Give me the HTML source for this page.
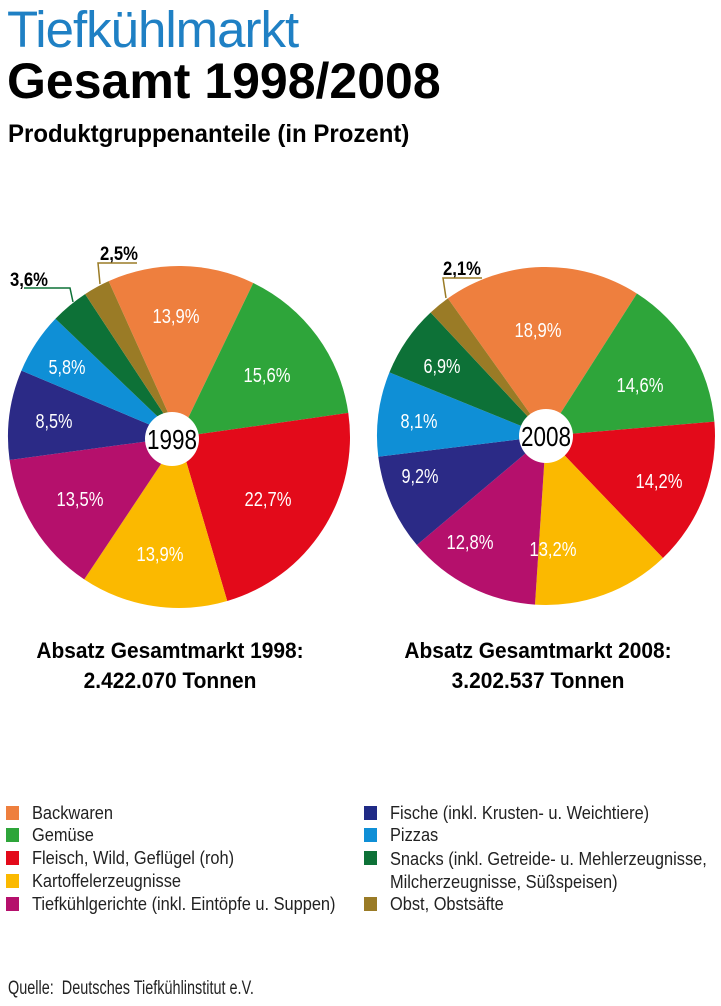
<!DOCTYPE html>
<html><head><meta charset="utf-8"><style>
body{margin:0;width:721px;height:1006px;background:#fff;overflow:hidden;font-family:"Liberation Sans",sans-serif;position:relative}
.a{position:absolute;white-space:nowrap}
.sq{position:absolute;width:13px;height:14px}
.lg{position:absolute;font-size:18px;color:#222;white-space:nowrap;transform:scaleX(.91);transform-origin:0 0}
</style></head><body>
<div class="a" style="left:7px;top:0px;font-size:51px;color:#1f80c4;letter-spacing:-1px">Tiefkühlmarkt</div>
<div class="a" style="left:7px;top:52px;font-size:50px;font-weight:bold">Gesamt 1998/2008</div>
<div class="a" style="left:8px;top:120px;font-size:25px;font-weight:bold;transform:scaleX(.96);transform-origin:0 0">Produktgruppenanteile (in Prozent)</div>
<svg id="s" width="721" height="720" style="position:absolute;left:0;top:0"></svg>
<div class="a" style="left:0;width:340px;text-align:center;top:636px;font-size:22px;font-weight:bold;line-height:30px;transform:scaleX(.95)">Absatz Gesamtmarkt 1998:<br>2.422.070 Tonnen</div>
<div class="a" style="left:368px;width:340px;text-align:center;top:636px;font-size:22px;font-weight:bold;line-height:30px;transform:scaleX(.95)">Absatz Gesamtmarkt 2008:<br>3.202.537 Tonnen</div>
<div class="sq" style="left:6px;top:806px;background:#ee7f3e"></div><div class="lg" style="left:32px;top:803px">Backwaren</div>
<div class="sq" style="left:6px;top:828px;background:#2ea53a"></div><div class="lg" style="left:32px;top:825px">Gemüse</div>
<div class="sq" style="left:6px;top:851px;background:#e30a1a"></div><div class="lg" style="left:32px;top:848px">Fleisch, Wild, Geflügel (roh)</div>
<div class="sq" style="left:6px;top:874px;background:#fbb900"></div><div class="lg" style="left:32px;top:871px">Kartoffelerzeugnisse</div>
<div class="sq" style="left:6px;top:897px;background:#b5106c"></div><div class="lg" style="left:32px;top:894px">Tiefkühlgerichte (inkl. Eintöpfe u. Suppen)</div>
<div class="sq" style="left:364px;top:806px;background:#1f2a86"></div><div class="lg" style="left:390px;top:803px">Fische (inkl. Krusten- u. Weichtiere)</div>
<div class="sq" style="left:364px;top:828px;background:#0f8fd6"></div><div class="lg" style="left:390px;top:825px">Pizzas</div>
<div class="sq" style="left:364px;top:851px;background:#0d7137"></div><div class="lg" style="left:390px;top:848px;line-height:23px">Snacks (inkl. Getreide- u. Mehlerzeugnisse,<br>Milcherzeugnisse, Süßspeisen)</div>
<div class="sq" style="left:364px;top:897px;background:#9a7b26"></div><div class="lg" style="left:390px;top:894px">Obst, Obstsäfte</div>
<div class="lg" style="left:8px;top:978px;font-size:19px;transform:scaleX(.76)">Quelle:&nbsp; Deutsches Tiefkühlinstitut e.V.</div>
<script>
var C=["#ee7f3e","#2ea53a","#e30a1a","#fbb900","#b5106c","#2b2a86","#0f8fd6","#0d7137","#9a7b26"];
var h="";
function pie(cx,cy,r,start,vals,hx,hy,yr,labs){
 var a=start;
 for(var i=0;i<vals.length;i++){
  var b=a+vals[i]*3.6;var A=(a-90)*Math.PI/180,B=(b-90)*Math.PI/180;
  h+='<path d="M'+cx+' '+cy+'L'+(cx+r*Math.cos(A))+' '+(cy+r*Math.sin(A))+'A'+r+' '+r+' 0 '+(b-a>180?1:0)+' 1 '+(cx+r*Math.cos(B))+' '+(cy+r*Math.sin(B))+'Z" fill="'+C[i]+'"/>';
  a=b;
 }
 h+='<circle cx="'+hx+'" cy="'+hy+'" r="27" fill="#fff"/>';
 h+='<text x="'+(hx-25)+'" y="'+(hy+10)+'" font-size="28" textLength="50" lengthAdjust="spacingAndGlyphs" font-family="Liberation Sans,sans-serif">'+yr+'</text>';
 labs.forEach(function(l){var w=l[2].length==5?47:37;h+='<text x="'+(l[0]-w/2)+'" y="'+(l[1]+1)+'" font-size="20" textLength="'+w+'" lengthAdjust="spacingAndGlyphs" fill="#fff" font-family="Liberation Sans,sans-serif">'+l[2]+'</text>';});
}
pie(179,437,171,-24.3,[13.9,15.6,22.7,13.9,13.5,8.5,5.8,3.6,2.5],172,439,"1998",
[[176,322,"13,9%"],[267,381,"15,6%"],[268,505,"22,7%"],[160,560,"13,9%"],[80,505,"13,5%"],[54,427,"8,5%"],[67,373,"5,8%"]]);
pie(546,436,169,-35.5,[18.9,14.6,14.2,13.2,12.8,9.2,8.1,6.9,2.1],546,436,"2008",
[[538,336,"18,9%"],[640,391,"14,6%"],[659,487,"14,2%"],[553,555,"13,2%"],[470,548,"12,8%"],[420,482,"9,2%"],[419,427,"8,1%"],[442,372,"6,9%"]]);
function cl(x,y,t){h+='<text x="'+x+'" y="'+y+'" font-size="19" font-weight="bold" textLength="38" lengthAdjust="spacingAndGlyphs" font-family="Liberation Sans,sans-serif">'+t+'</text>';}
cl(10,286,"3,6%");
h+='<polyline points="24,288 70,288 73,302" fill="none" stroke="#0d7137" stroke-width="1.5"/>';
cl(100,260,"2,5%");
h+='<polyline points="137,263 98,263 100,284" fill="none" stroke="#9a7b26" stroke-width="1.5"/>';
cl(443,275,"2,1%");
h+='<polyline points="482,278 443,278 446,298" fill="none" stroke="#9a7b26" stroke-width="1.5"/>';
document.getElementById("s").innerHTML=h;
</script>
</body></html>
